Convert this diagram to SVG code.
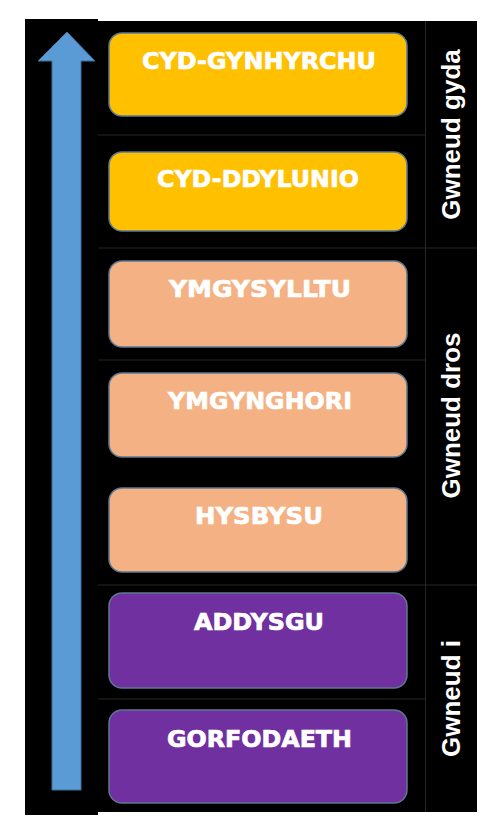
<svg xmlns="http://www.w3.org/2000/svg" width="495" height="834" viewBox="0 0 495 834">
<style>
.box{stroke:#5d7894;stroke-width:1.5}
.gold{fill:#FFC000}
.salmon{fill:#F4B183}
.purple{fill:#7030A0}
.lbl{font-family:"DejaVu Sans","Liberation Sans",sans-serif;font-weight:bold;font-size:23px;fill:#ffffff;stroke:#ffffff;stroke-width:0.7;text-anchor:middle}
.side{font-family:"Liberation Sans",Arial,sans-serif;font-weight:bold;font-size:26px;fill:#ffffff;text-anchor:middle}
.grid{stroke:#262626;stroke-width:1;fill:none}
</style>
<rect width="495" height="834" fill="#ffffff"/>
<g id="background">
<rect x="25" y="19" width="73" height="796" fill="#000000"/>
<rect x="98" y="21" width="379" height="791" fill="#000000"/>
</g>
<g id="gridlines" class="grid">
<line x1="425.5" y1="21" x2="425.5" y2="812"/>
<line x1="98" y1="135" x2="425" y2="135"/>
<line x1="98" y1="248" x2="477" y2="248"/>
<line x1="98" y1="360" x2="425" y2="360"/>
<line x1="98" y1="585" x2="477" y2="585"/>
<line x1="98" y1="699" x2="425" y2="699"/>
</g>
<g id="arrow">
<polygon points="67,32 95,61 81,61 81,790 52,790 52,61 38,61" fill="#5B9BD5" stroke="#41719C" stroke-width="1"/>
</g>
<g id="node-cyd-gynhyrchu">
<rect class="box gold" x="109" y="33" width="298" height="83" rx="13"/>
<text class="lbl" x="259" y="69" textLength="234" lengthAdjust="spacingAndGlyphs">CYD-GYNHYRCHU</text>
</g>
<g id="node-cyd-ddylunio">
<rect class="box gold" x="109" y="152" width="298" height="79" rx="13"/>
<text class="lbl" x="258" y="187" textLength="202" lengthAdjust="spacingAndGlyphs">CYD-DDYLUNIO</text>
</g>
<g id="node-ymgysylltu">
<rect class="box salmon" x="109" y="261" width="298" height="86" rx="13"/>
<text class="lbl" x="260" y="297" textLength="182" lengthAdjust="spacingAndGlyphs">YMGYSYLLTU</text>
</g>
<g id="node-ymgynghori">
<rect class="box salmon" x="109" y="373" width="298" height="84" rx="13"/>
<text class="lbl" x="260" y="409" textLength="184" lengthAdjust="spacingAndGlyphs">YMGYNGHORI</text>
</g>
<g id="node-hysbysu">
<rect class="box salmon" x="109" y="488" width="298" height="84" rx="13"/>
<text class="lbl" x="259" y="524" textLength="128" lengthAdjust="spacingAndGlyphs">HYSBYSU</text>
</g>
<g id="node-addysgu">
<rect class="box purple" x="109" y="593" width="298" height="95" rx="13"/>
<text class="lbl" x="259" y="630" textLength="130" lengthAdjust="spacingAndGlyphs">ADDYSGU</text>
</g>
<g id="node-gorfodaeth">
<rect class="box purple" x="109" y="710" width="298" height="93" rx="13"/>
<text class="lbl" x="259.5" y="747" textLength="185" lengthAdjust="spacingAndGlyphs">GORFODAETH</text>
</g>
<g id="label-gwneud-gyda">
<text class="side" transform="translate(460,134.5) rotate(-90)">Gwneud gyda</text>
</g>
<g id="label-gwneud-dros">
<text class="side" transform="translate(460,415.5) rotate(-90)">Gwneud dros</text>
</g>
<g id="label-gwneud-i">
<text class="side" transform="translate(460,698.5) rotate(-90)">Gwneud i</text>
</g>
<g id="connectors"></g>
</svg>
